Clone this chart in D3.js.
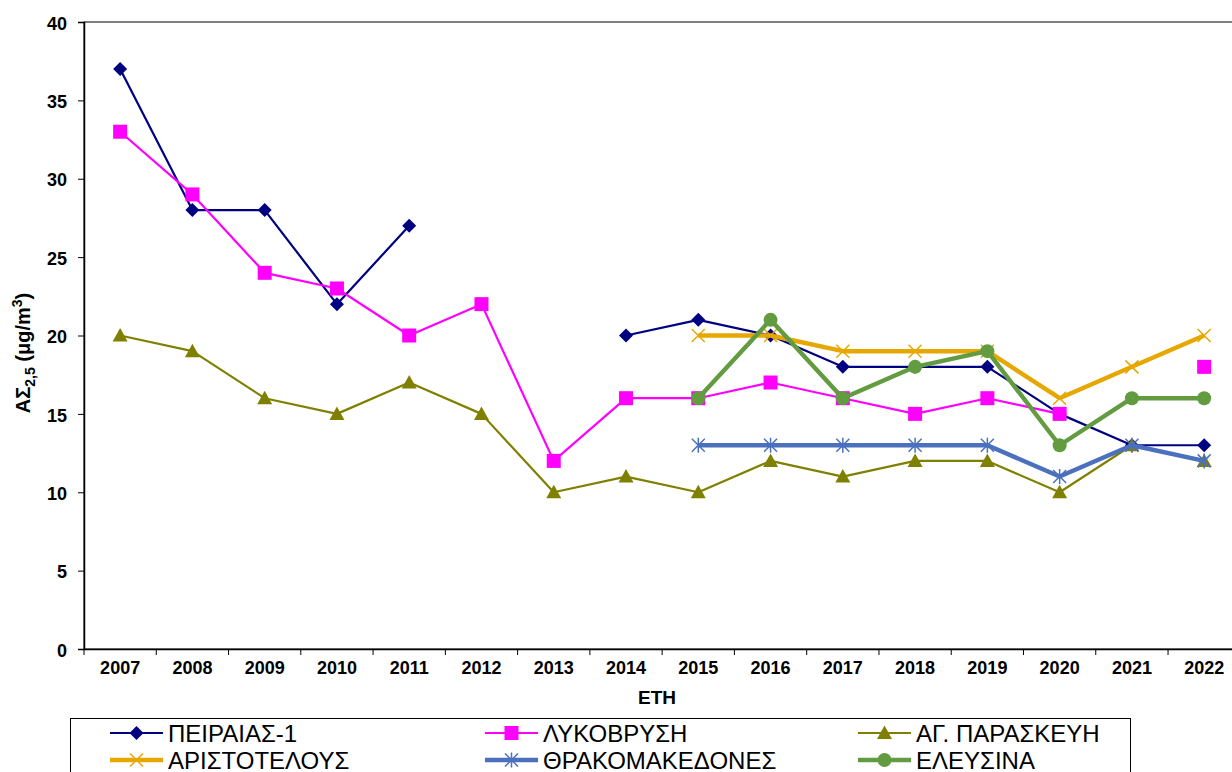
<!DOCTYPE html>
<html>
<head>
<meta charset="utf-8">
<script src="https://cdn.jsdelivr.net/npm/d3@7"></script>
<style>
  html, body { margin: 0; padding: 0; background: #fff; }
  svg { display: block; font-family: "Liberation Sans", Arial, sans-serif; }
</style>
</head>
<body>
<svg id="chart" width="1232" height="772"></svg>
<script>
// Annual PM2.5 means per station (µg/m³); null = no data for that year
const years = ["2007","2008","2009","2010","2011","2012","2013","2014","2015","2016","2017","2018","2019","2020","2021","2022"];
const peiraias = [37, 28, 28, 22, 27, null, null, 20, 21, 20, 18, 18, 18, 15, 13, 13];
const lykovrysi = [33, 29, 24, 23, 20, 22, 12, 16, 16, 17, 16, 15, 16, 15, null, 18];
const agParaskevi = [20, 19, 16, 15, 17, 15, 10, 11, 10, 12, 11, 12, 12, 10, 13, 12];
const aristotelous = [null, null, null, null, null, null, null, null, 20, 20, 19, 19, 19, 16, 18, 20];
const thrakomakedones = [null, null, null, null, null, null, null, null, 13, 13, 13, 13, 13, 11, 13, 12];
const elefsina = [null, null, null, null, null, null, null, null, 16, 21, 16, 18, 19, 13, 16, 16];
const yTicks = [0, 5, 10, 15, 20, 25, 30, 35, 40];

const series = [
  { name: "ΠΕΙΡΑΙΑΣ-1", values: peiraias, color: "#000080", width: 2.2, marker: "diamond" },
  { name: "ΛΥΚΟΒΡΥΣΗ", values: lykovrysi, color: "#FF00FF", width: 2.2, marker: "square" },
  { name: "ΑΓ. ΠΑΡΑΣΚΕΥΗ", values: agParaskevi, color: "#808000", width: 2.2, marker: "triangle" },
  { name: "ΑΡΙΣΤΟΤΕΛΟΥΣ", values: aristotelous, color: "#E6A800", width: 4.4, marker: "x" },
  { name: "ΘΡΑΚΟΜΑΚΕΔΟΝΕΣ", values: thrakomakedones, color: "#4A70BE", width: 4.4, marker: "star" },
  { name: "ΕΛΕΥΣΙΝΑ", values: elefsina, color: "#629B40", width: 4.4, marker: "circle" }
];

const svg = d3.select("#chart");
const plot = { left: 84, top: 22, bottom: 649, right: 1240.3 };

const x = d3.scaleBand().domain(years).range([plot.left, plot.right]).padding(0);
const y = d3.scaleLinear().domain([0, 40]).range([plot.bottom, plot.top]);
const cx = d => x(d) + x.bandwidth() / 2;

// Plot area frame
svg.append("rect")
  .attr("x", plot.left).attr("y", plot.top)
  .attr("width", plot.right - plot.left).attr("height", plot.bottom - plot.top)
  .attr("fill", "none").attr("stroke", "#000").attr("stroke-width", 1);

const tickFont = sel => sel
  .attr("font-size", 18).attr("font-weight", "bold").attr("fill", "#000")
  .attr("font-family", "Liberation Sans, Arial, sans-serif");

// Y axis
const yAxis = svg.append("g")
  .attr("transform", `translate(${plot.left},0)`)
  .call(d3.axisLeft(y).tickValues(yTicks).tickSize(6).tickPadding(11));
yAxis.select(".domain").attr("stroke", "#000").attr("stroke-width", 1.5);
yAxis.selectAll(".tick line").attr("stroke", "#000");
yAxis.selectAll(".tick text").call(tickFont).attr("dy", "0.4em");

// X axis: ticks sit on the category boundaries, labels at category centres
const xAxis = svg.append("g")
  .attr("transform", `translate(0,${plot.bottom})`)
  .call(d3.axisBottom(x).tickSize(0).tickPadding(12));
xAxis.select(".domain").attr("stroke", "#000").attr("stroke-width", 1.5);
xAxis.selectAll(".tick text").call(tickFont);
xAxis.selectAll(".boundary")
  .data(d3.range(years.length + 1))
  .enter().append("line")
  .attr("class", "boundary")
  .attr("x1", i => plot.left + i * x.bandwidth())
  .attr("x2", i => plot.left + i * x.bandwidth())
  .attr("y1", 0).attr("y2", 6)
  .attr("stroke", "#000");

// Axis titles
svg.append("text")
  .attr("x", 657).attr("y", 704)
  .attr("text-anchor", "middle")
  .attr("font-size", 19).attr("font-weight", "bold")
  .text("ΕΤΗ");

const yTitle = svg.append("text")
  .attr("transform", "translate(30,353) rotate(-90)")
  .attr("text-anchor", "middle")
  .attr("font-size", 20).attr("font-weight", "bold");
yTitle.append("tspan").text("ΑΣ");
yTitle.append("tspan").attr("font-size", 14).attr("dy", 5).text("2,5");
yTitle.append("tspan").attr("dy", -5).text(" (μg/m");
yTitle.append("tspan").attr("font-size", 14).attr("dy", -8).text("3");
yTitle.append("tspan").attr("dy", 8).text(")");

// Marker shapes
function drawMarker(g, type, color, px, py) {
  if (type === "diamond") {
    g.append("path").attr("d", `M${px},${py - 7}L${px + 7},${py}L${px},${py + 7}L${px - 7},${py}Z`).attr("fill", color);
  } else if (type === "square") {
    g.append("rect").attr("x", px - 7).attr("y", py - 7).attr("width", 14).attr("height", 14).attr("fill", color);
  } else if (type === "triangle") {
    g.append("path").attr("d", `M${px},${py - 7.5}L${px + 7.5},${py + 6}L${px - 7.5},${py + 6}Z`).attr("fill", color);
  } else if (type === "circle") {
    g.append("circle").attr("cx", px).attr("cy", py).attr("r", 7).attr("fill", color);
  } else if (type === "x") {
    g.append("path").attr("d", `M${px - 6.5},${py - 6.5}L${px + 6.5},${py + 6.5}M${px - 6.5},${py + 6.5}L${px + 6.5},${py - 6.5}`)
      .attr("stroke", color).attr("stroke-width", 1.5).attr("fill", "none");
  } else if (type === "star") {
    g.append("path").attr("d", `M${px - 6.5},${py - 6.5}L${px + 6.5},${py + 6.5}M${px - 6.5},${py + 6.5}L${px + 6.5},${py - 6.5}M${px},${py - 7.5}L${px},${py + 7.5}`)
      .attr("stroke", color).attr("stroke-width", 1.5).attr("fill", "none");
  }
}

const line = d3.line()
  .defined(d => d.v !== null)
  .x(d => cx(d.year))
  .y(d => y(d.v));

series.forEach(s => {
  const pts = years.map((yr, i) => ({ year: yr, v: s.values[i] }));
  const g = svg.append("g");
  g.append("path")
    .datum(pts)
    .attr("d", line)
    .attr("fill", "none")
    .attr("stroke", s.color)
    .attr("stroke-width", s.width)
    .attr("stroke-linejoin", "round");
  pts.filter(d => d.v !== null).forEach(d => drawMarker(g, s.marker, s.color, cx(d.year), y(d.v)));
});

// Legend
const legend = svg.append("g");
legend.append("rect")
  .attr("x", 70.5).attr("y", 718.5).attr("width", 1060).attr("height", 80)
  .attr("fill", "#fff").attr("stroke", "#000").attr("stroke-width", 1);

const colX = [110, 485, 858];
const rowY = [733, 760];
series.forEach((s, i) => {
  const lx = colX[i % 3], ly = rowY[Math.floor(i / 3)];
  const g = legend.append("g");
  g.append("line").attr("x1", lx).attr("x2", lx + 53).attr("y1", ly).attr("y2", ly)
    .attr("stroke", s.color).attr("stroke-width", s.width);
  drawMarker(g, s.marker, s.color, lx + 26.5, ly);
  g.append("text").attr("x", lx + 58).attr("y", ly).attr("dy", "0.36em")
    .attr("font-size", 24).attr("fill", "#000").text(s.name);
});
</script>
</body>
</html>
